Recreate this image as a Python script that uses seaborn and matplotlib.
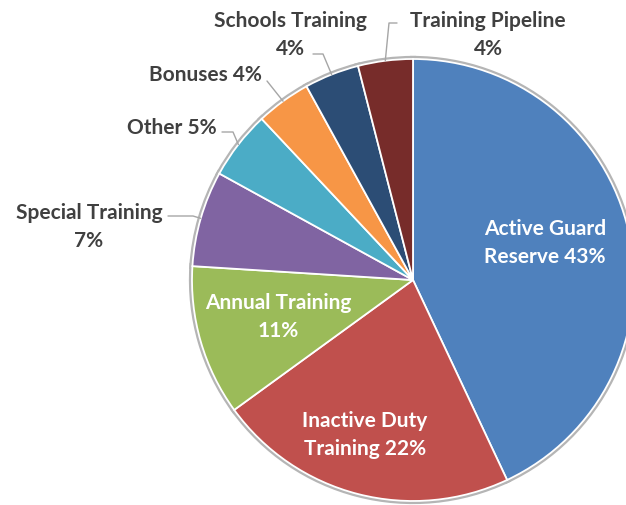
import numpy as np
import seaborn as sns
import matplotlib
matplotlib.use('Agg')
import matplotlib.pyplot as plt

categories = ['Active Guard Reserve', 'Inactive Duty Training', 'Annual Training',
              'Special Training', 'Other', 'Bonuses', 'Schools Training', 'Training Pipeline']
shares = [43, 22, 11, 7, 5, 4, 4, 4]
labels = ['Active Guard\nReserve 43%', 'Inactive Duty\nTraining 22%', 'Annual Training\n11%',
          'Special Training\n7%', 'Other 5%', 'Bonuses 4%', 'Schools Training\n4%', 'Training Pipeline\n4%']
slice_colors = ['#4F81BD', '#C0504D', '#9BBB59', '#8064A2', '#4BACC6', '#F79646', '#2C4D75', '#772C2A']

sns.set_theme(style='white')
plt.rcParams['font.family'] = ['Lato', 'DejaVu Sans']

fig = plt.figure(figsize=(6.26, 5.06), dpi=100)
ax = fig.add_axes([0, 0, 1, 1])

cx, cy, r = 413, 225, 221
pal = sns.color_palette(slice_colors)
# grey outline underneath, then the same slices with a thin white seam on top
ax.pie(shares, colors=pal, startangle=90, counterclock=False, center=(cx, cy), radius=r,
       frame=True, wedgeprops=dict(edgecolor='#b5b5b5', linewidth=4.5))
wedges, _ = ax.pie(shares, colors=pal, startangle=90, counterclock=False, center=(cx, cy), radius=r,
                   frame=True, wedgeprops=dict(edgecolor='white', linewidth=1.3))
ax.set_xlim(0, 626)
ax.set_ylim(0, 506)
ax.set_aspect('equal')
ax.axis('off')

fs = 15
# inside labels (white)
inside = {0: (545, 263), 1: (365, 71), 2: (278, 189)}
for i, (x, y) in inside.items():
    ax.text(x, y, labels[i], ha='center', va='center', color='white',
            fontsize=fs, fontweight='bold', linespacing=1.5)

# outside labels with leader lines: text pos, leader start and elbow
outside = {3: ((89, 279), [(168, 289), (193, 289)]),
           4: ((172, 378), [(222, 373), (233, 373)]),
           5: ((205, 431), [(267, 424)]),
           6: ((290, 471), [(313, 451), (323, 451)]),
           7: ((488, 471), [(397, 482), (389, 482)])}
for i, ((x, y), pts) in outside.items():
    w = wedges[i]
    ang = np.deg2rad((w.theta1 + w.theta2) / 2)
    px, py = cx + r * np.cos(ang), cy + r * np.sin(ang)
    xs = [p[0] for p in pts] + [px]
    ys = [p[1] for p in pts] + [py]
    ax.plot(xs, ys, color='#a6a6a6', lw=1)
    ax.text(x, y, labels[i], ha='center', va='center', color='#404040',
            fontsize=fs, fontweight='bold', linespacing=1.5)

fig.savefig('out.png', dpi=100)
